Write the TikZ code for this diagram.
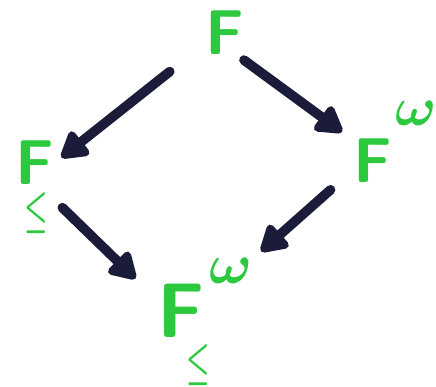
\documentclass[tikz,border=0pt]{standalone}
\usepackage{xcolor}
\usepackage{graphicx}
\usepackage{bm}
\usepackage{tikz}
\usetikzlibrary{arrows.meta}
\definecolor{markgreen}{HTML}{2CC83E}
\definecolor{inknavy}{HTML}{1B1B3A}

\begin{document}
\begin{tikzpicture}[
  obj/.style={
    text=markgreen, inner sep=0pt, anchor=base west,
    font=\fontsize{36}{40}\selectfont\sffamily\bfseries
  },
  arrow/.style={-{Triangle[round,length=17pt,width=19pt]}, line width=5.5pt,
    line cap=round, draw=inknavy}
]
\useasboundingbox (0,0) rectangle (8.72,7.74);

\node[obj] (top) at (4.10,6.64) {F};
\node[obj] (left) at (0.30,4.04) {F\rlap{\smash{\hspace{-0.60cm}\raisebox{-0.80cm}{%
  \scalebox{0.6}[1.05]{$\bm{\leq}$}}}}};
\node[obj] (right) at (7.06,4.08) {F\rlap{\smash{\hspace{0.06cm}\raisebox{1.14cm}{%
  \scalebox{1.25}{$\bm{\omega}$}}}}};
\node[obj, font=\fontsize{44}{46}\selectfont\sffamily\bfseries] (bottom) at (3.14,0.98)
  {F\rlap{\smash{\hspace{0.10cm}\raisebox{1.08cm}{\scalebox{1.3}{$\bm{\omega}$}}}}%
   \rlap{\smash{\hspace{-0.36cm}\raisebox{-0.78cm}{%
  \scalebox{0.6}[1.05]{$\bm{\leq}$}}}}};

\draw[arrow, shorten <=0.90cm, shorten >=0.18cm] (top.208) -- (left.east);
\draw[arrow, shorten <=0.16cm, shorten >=0.27cm] (top.300) -- (right.133);
\draw[arrow, shorten <=0.64cm, shorten >=0.60cm] (left.282) -- (bottom.154);
\draw[arrow, shorten <=0.60cm, shorten >=1.50cm] (right.204) -- (bottom.23);
\end{tikzpicture}
\end{document}
